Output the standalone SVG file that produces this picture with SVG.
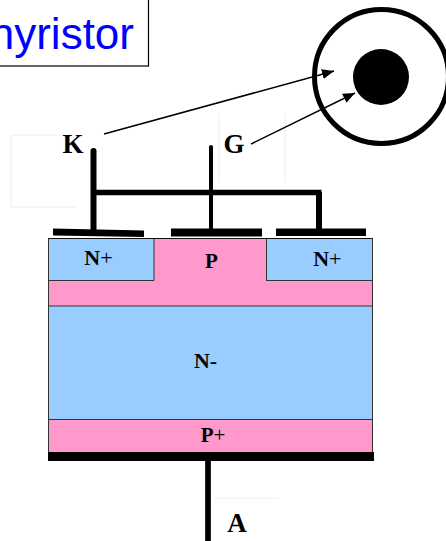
<svg xmlns="http://www.w3.org/2000/svg" width="446" height="541" viewBox="0 0 446 541">
<style>
.lbl{font-family:"Liberation Serif",serif;font-weight:bold;fill:#000}
.r{font-weight:normal}
.b{font-size:27px}
.term{stroke:#000;fill:none}
.ghost{fill:none;stroke:#eee;stroke-width:1}
.n{fill:#99ccff;stroke:#333;stroke-width:1}
.p{fill:#ff99cc;stroke:#333;stroke-width:1}
.pin{fill:#ff99cc}
.wire{stroke:#000;stroke-width:1.5;fill:none;marker-end:url(#a)}
</style>
<defs>
<marker id="a" markerUnits="userSpaceOnUse" markerWidth="14" markerHeight="12" refX="12" refY="5" orient="auto" viewBox="0 0 14 10"><path d="M0 0L12 5L0 10z" fill="#000"/></marker>
</defs>
<rect width="446" height="541" fill="#fff"/>
<g id="ghosts">
<path class="ghost" d="M75 135H11V207H76M219 113V183M285 113V183M214 498H279"/>
</g>
<g id="title">
<rect x="-20" y="-10" width="168.500" height="76" fill="#fff" stroke="#000" stroke-width="1.200"/>
<text x="134" y="49" text-anchor="end" font-family="Liberation Sans,sans-serif" font-size="44" fill="#0000ff">hyristor</text>
</g>
<g id="wafer">
<rect class="n" x="48.500" y="238.500" width="324" height="181"/>
<rect class="p" x="48.500" y="419.500" width="324" height="33"/>
<rect class="p" x="48.500" y="280.500" width="324" height="25.500"/>
<rect class="pin" x="154" y="239" width="112.500" height="42"/>
<rect class="pin" x="49" y="281" width="323" height="24"/>
<path d="M154 238.500V280.500H48.500M266.500 238.500V280.500H372.500" fill="none" stroke="#333"/>
<path d="M48.500 238.500H372.500" fill="none" stroke="#111" stroke-width="1"/>
</g>
<g id="region-nplus-left"><text class="lbl" font-size="22" x="98.500" y="265" text-anchor="middle">N<tspan class="r">+</tspan></text></g>
<g id="region-p"><text class="lbl" font-size="21" x="211.500" y="268" text-anchor="middle">P</text></g>
<g id="region-nplus-right"><text class="lbl" font-size="22" x="327.300" y="266" text-anchor="middle">N<tspan class="r">+</tspan></text></g>
<g id="region-nminus"><text class="lbl" font-size="22" x="205.500" y="368" text-anchor="middle">N-</text></g>
<g id="region-pplus"><text class="lbl" font-size="21" x="213" y="442" text-anchor="middle">P<tspan class="r">+</tspan></text></g>
<g id="terminal-k">
<text class="lbl b" x="73" y="153" text-anchor="middle">K</text>
<path class="term" stroke-width="6" stroke-linecap="round" d="M93.500 151V232"/>
<path d="M53 228.500L144 230.500V237L53 235.500z" fill="#000"/>
</g>
<g id="terminal-g">
<text class="lbl b" x="234" y="153" text-anchor="middle">G</text>
<path class="term" stroke-width="4" stroke-linecap="round" d="M211 147V232"/>
<path d="M171 228.500H262V236.500H171z" fill="#000"/>
</g>
<g id="terminal-k2">
<path class="term" stroke-width="5.500" d="M96 192.500H321.500"/>
<path class="term" stroke-width="6" d="M319 192V232"/>
<path d="M276 228.500H366V236H276z" fill="#000"/>
</g>
<g id="terminal-a">
<rect x="48" y="452" width="326" height="9" fill="#000"/>
<path class="term" stroke-width="5.700" d="M208 461V541"/>
<text class="lbl b" x="237" y="532" text-anchor="middle">A</text>
</g>
<g id="device-top">
<circle cx="381.500" cy="76.500" r="67" fill="#fff" stroke="#000" stroke-width="5"/>
<circle cx="381" cy="77" r="28" fill="#000"/>
</g>
<g id="connectors">
<path class="wire" d="M104 134L334 71"/>
<path class="wire" d="M251 144L355 93"/>
</g>
</svg>
